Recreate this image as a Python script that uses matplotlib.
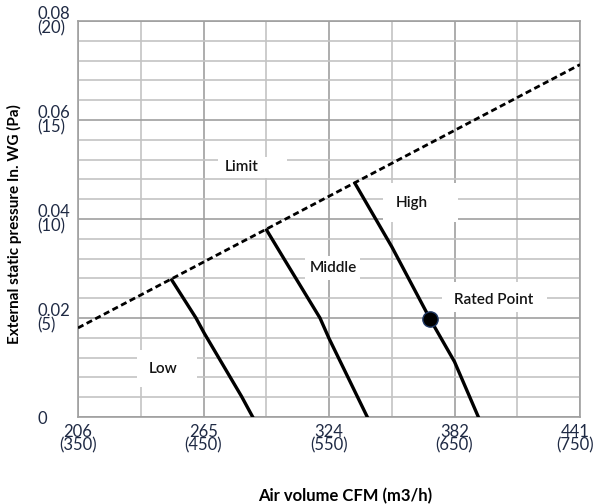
import matplotlib.pyplot as plt
import matplotlib.transforms as mtransforms
from matplotlib.patches import Rectangle
import numpy as np

# Data (x in m3/h, y in Pa)
x_ticks_m3h = [350, 450, 550, 650, 750]
x_tick_labels = ['206\n(350)', '265\n(450)', '324\n(550)', '382\n(650)', '441\n(750)']
y_ticks_pa = [0, 5, 10, 15, 20]
y_tick_labels = ['0', '0.02\n(5)', '0.04\n(10)', '0.06\n(15)', '0.08\n(20)']

limit_x = [350, 750]
limit_y = [4.5, 17.8]

low_x = [424.7, 444, 450.6, 480.4, 489.2]
low_y = [6.92, 5.0, 4.23, 1.03, 0]
middle_x = [500.3, 514.7, 542.8, 550, 580.5]
middle_y = [9.44, 7.93, 5.0, 3.97, 0]
high_x = [570.7, 600, 630.5, 650, 669]
high_y = [11.8, 8.6, 4.95, 2.79, 0]

rated_x = [630.5]
rated_y = [4.95]

# curve labels: text, text position, white box (x0, x1, y0, y1)
labels = [
    ('Limit', (480.4, 12.63), (461.6, 516.6, 12.07, 13.13)),
    ('High', (616.2, 10.81), (593, 652.8, 9.85, 11.82)),
    ('Middle', (553.2, 7.53), (530.9, 574.7, 6.92, 8.13)),
    ('Rated Point', (681.1, 5.91), (640, 723.7, 5.30, 6.82)),
    ('Low', (417.5, 2.42), (397, 444.8, 1.52, 3.38)),
]

plt.rcParams['font.family'] = ['Lato', 'DejaVu Sans']

fig = plt.figure(figsize=(5.96, 5.04), dpi=100)
ax = fig.add_axes([0.1309, 0.1726, 0.8423, 0.7857])

# grid
for v in np.arange(350, 751, 50):
    c = '#a0a0a0' if v in x_ticks_m3h else '#c4c4c4'
    ax.axvline(v, color=c, lw=1.2, zorder=0)
for v in np.arange(0, 21, 1):
    c = '#a0a0a0' if v in y_ticks_pa else '#c4c4c4'
    ax.axhline(v, color=c, lw=1.2, zorder=0)

ax.plot(limit_x, limit_y, color='black', lw=2, ls=(0, (2.2, 1.3)), zorder=3)
for xs, ys in [(low_x, low_y), (middle_x, middle_y), (high_x, high_y)]:
    ax.plot(xs, ys, color='black', lw=2.4, zorder=3, solid_joinstyle='round')
ax.plot(rated_x, rated_y, 'o', color='black', markersize=11,
        markeredgecolor='#1f3864', zorder=4)

for text, (tx, ty), (x0, x1, y0, y1) in labels:
    ax.add_patch(Rectangle((x0, y0), x1 - x0, y1 - y0, fc='white', ec='none', zorder=1))
    ax.text(tx, ty, text, ha='center', va='center', fontsize=11, color='#141414',
            fontweight='semibold', zorder=2)

ax.set_xlim(350, 750)
ax.set_ylim(0, 20)
ax.set_xticks(x_ticks_m3h)
ax.set_xticklabels(x_tick_labels, fontsize=12, color='#1f2a44', linespacing=0.8)
ax.set_yticks(y_ticks_pa)
ax.set_yticklabels(y_tick_labels, fontsize=12, color='#1f2a44', linespacing=0.8,
                   ha='left', multialignment='left')
ax.tick_params(axis='y', length=0, pad=29.5)
ax.tick_params(axis='x', length=0, pad=5)
# keep the last x label inside the figure
last = ax.get_xticklabels()[-1]
last.set_transform(last.get_transform() + mtransforms.ScaledTranslation(-5 / 100, 0, fig.dpi_scale_trans))
for s in ax.spines.values():
    s.set_color('#a0a0a0')
    s.set_linewidth(1.2)

ax.set_xlabel('Air volume CFM (m3/h)', fontsize=12, fontweight='bold')
ax.set_ylabel('External static pressure In. WG (Pa)', fontsize=11, fontweight='bold')
ax.xaxis.set_label_coords(0.532, -0.179)
ax.yaxis.set_label_coords(-0.112, 0.487)

fig.savefig('out.png', dpi=100)
